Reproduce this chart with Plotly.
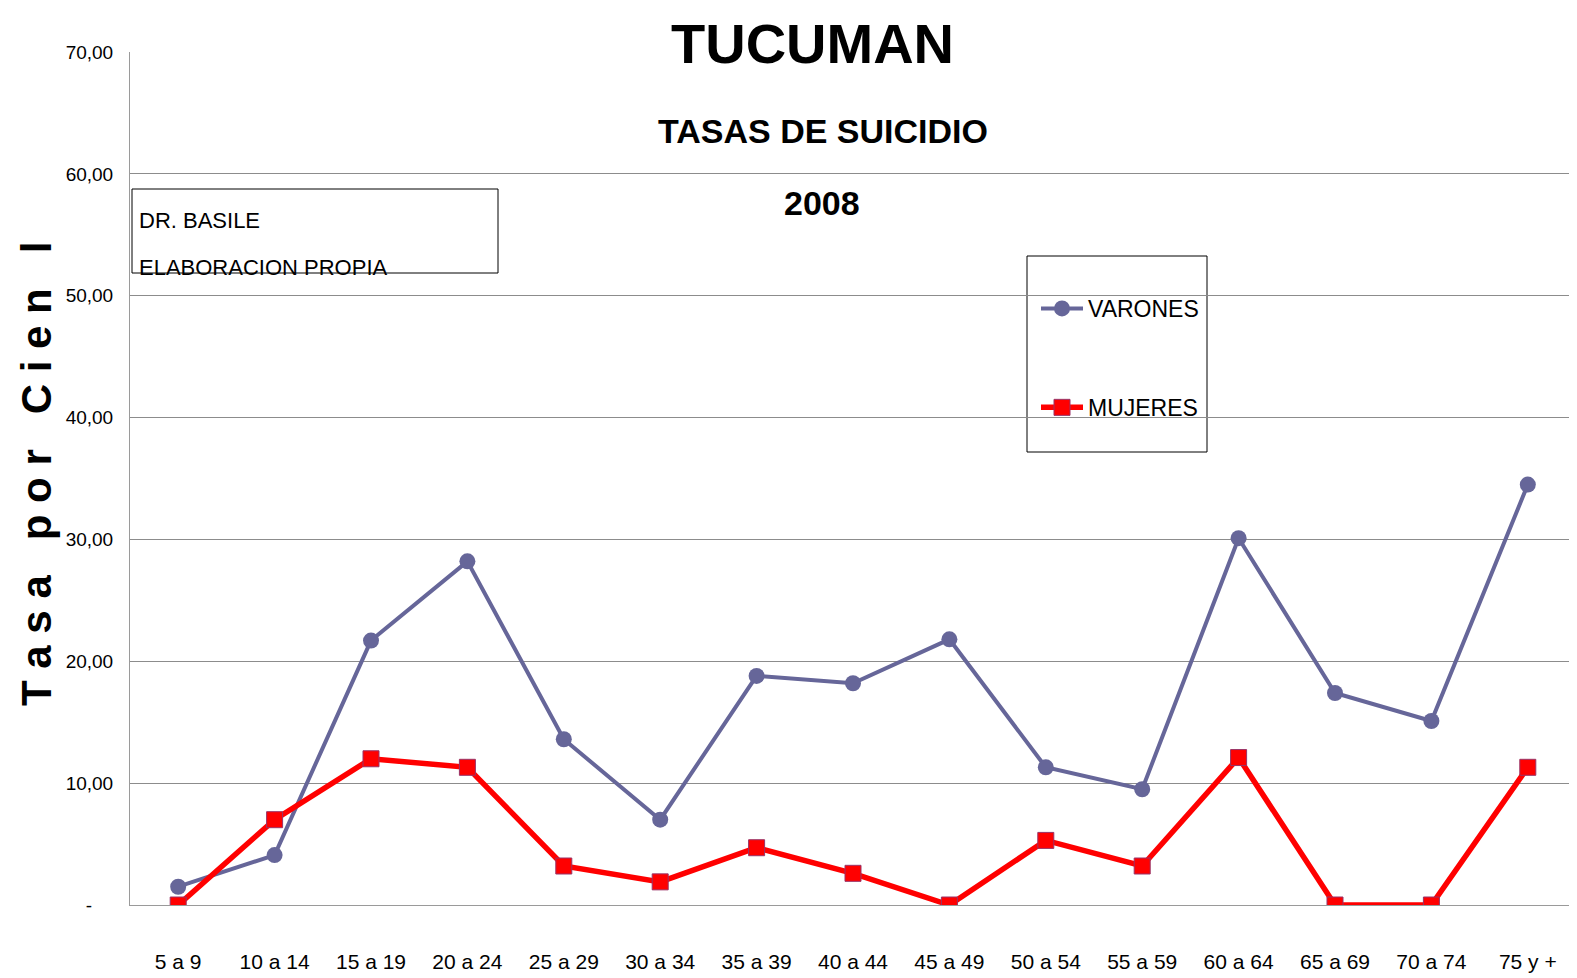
import plotly.graph_objects as go

categories = ["5 a 9", "10 a 14", "15 a 19", "20 a 24", "25 a 29", "30 a 34", "35 a 39",
              "40 a 44", "45 a 49", "50 a 54", "55 a 59", "60 a 64", "65 a 69", "70 a 74", "75 y +"]
varones = [1.5, 4.1, 21.7, 28.2, 13.6, 7.0, 18.8, 18.2, 21.8, 11.3, 9.5, 30.1, 17.4, 15.1, 34.5]
mujeres = [0.0, 7.0, 12.0, 11.3, 3.2, 1.9, 4.7, 2.6, 0.0, 5.3, 3.2, 12.1, 0.0, 0.0, 11.3]
y_tickvals = [0, 10, 20, 30, 40, 50, 60, 70]
y_ticktext = ["-\u00a0\u00a0\u00a0\u00a0", "10,00", "20,00", "30,00", "40,00", "50,00", "60,00", "70,00"]

FONT = "Liberation Sans Narrow, Arial Narrow, Liberation Sans, Arial, sans-serif"

# page has an 8px body margin: the figure starts at (8, 8)
OFF = 8
W, H = 1577 - OFF, 978 - OFF
PL, PR, PT, PB = 130, 1576, 52, 905   # plot area in page pixels
PW, PH = PR - PL, PB - PT
ML, MT = PL - OFF, PT - OFF
MR = W - ML - PW
MB = H - MT - PH


def px(x):
    return (x - PL) / PW


def py(y):
    return (PB - y) / PH


fig = go.Figure()
fig.add_trace(go.Scatter(
    x=categories, y=varones, name="VARONES", mode="lines+markers",
    line=dict(color="#666699", width=4),
    marker=dict(symbol="circle", size=16, color="#666699"),
    legendgroup="v",
))
fig.add_trace(go.Scatter(
    x=categories, y=mujeres, name="MUJERES", mode="lines+markers",
    line=dict(color="#FF0000", width=5.5),
    marker=dict(symbol="square", size=16, color="#FF0000", line=dict(color="#993366", width=1)),
    legendgroup="m",
))

fig.update_layout(
    width=W, height=H,
    margin=dict(l=ML, r=MR, t=MT, b=MB, autoexpand=False),
    paper_bgcolor="white", plot_bgcolor="white",
    font=dict(family=FONT, color="black"),
    showlegend=True,
    legend=dict(
        x=px(1036), y=py(287), xanchor="left", yanchor="top",
        font=dict(family=FONT, size=23, color="black"),
        bgcolor="rgba(0,0,0,0)", borderwidth=0,
        traceorder="grouped", tracegroupgap=66,
        itemwidth=42,
    ),
    xaxis=dict(
        type="category", range=[-0.5, 14.5],
        showgrid=False, showline=True, linecolor="#9a9a9a", linewidth=1,
        ticks="", tickfont=dict(family=FONT, size=21, color="black"),
        ticklabelstandoff=38, zeroline=False, fixedrange=True,
    ),
    yaxis=dict(
        range=[0, 70], tickvals=y_tickvals, ticktext=y_ticktext,
        showgrid=True, gridcolor="#8c8c8c", gridwidth=1,
        showline=True, linecolor="#9a9a9a", linewidth=1,
        ticks="", tickfont=dict(family=FONT, size=19, color="black"),
        ticklabelstandoff=12, zeroline=False, fixedrange=True,
    ),
)

# Titles
fig.add_annotation(text="<b>TUCUMAN</b>", xref="paper", yref="paper", x=px(812), y=py(43),
                   showarrow=False, font=dict(family=FONT, size=56, color="black"),
                   xanchor="center", yanchor="middle")
fig.add_annotation(text="<b>TASAS DE SUICIDIO</b>", xref="paper", yref="paper", x=px(823), y=py(131),
                   showarrow=False, font=dict(family=FONT, size=34, color="black"),
                   xanchor="center", yanchor="middle")
fig.add_annotation(text="<b>2008</b>", xref="paper", yref="paper", x=px(822), y=py(203),
                   showarrow=False, font=dict(family=FONT, size=34, color="black"),
                   xanchor="center", yanchor="middle")

# Y axis title
fig.add_annotation(text="<b>T a s a   p o r   C i e n   l</b>", xref="paper", yref="paper",
                   x=px(36), y=py(474), showarrow=False, textangle=-90,
                   font=dict(family=FONT, size=42, color="black"),
                   xanchor="center", yanchor="middle")

# Source box
fig.add_shape(type="rect", xref="paper", yref="paper",
              x0=px(132), x1=px(498), y0=py(189), y1=py(273),
              line=dict(color="black", width=1), fillcolor="rgba(0,0,0,0)")
fig.add_annotation(text="DR. BASILE", xref="paper", yref="paper", x=px(137), y=py(220),
                   showarrow=False, font=dict(family=FONT, size=22, color="black"),
                   xanchor="left", yanchor="middle")
fig.add_annotation(text="ELABORACION PROPIA", xref="paper", yref="paper", x=px(137), y=py(267),
                   showarrow=False, font=dict(family=FONT, size=22, color="black"),
                   xanchor="left", yanchor="middle")

# Legend box
fig.add_shape(type="rect", xref="paper", yref="paper",
              x0=px(1027), x1=px(1207), y0=py(256), y1=py(452),
              line=dict(color="black", width=1), fillcolor="white", layer="below")

fig.write_html("out.html")
